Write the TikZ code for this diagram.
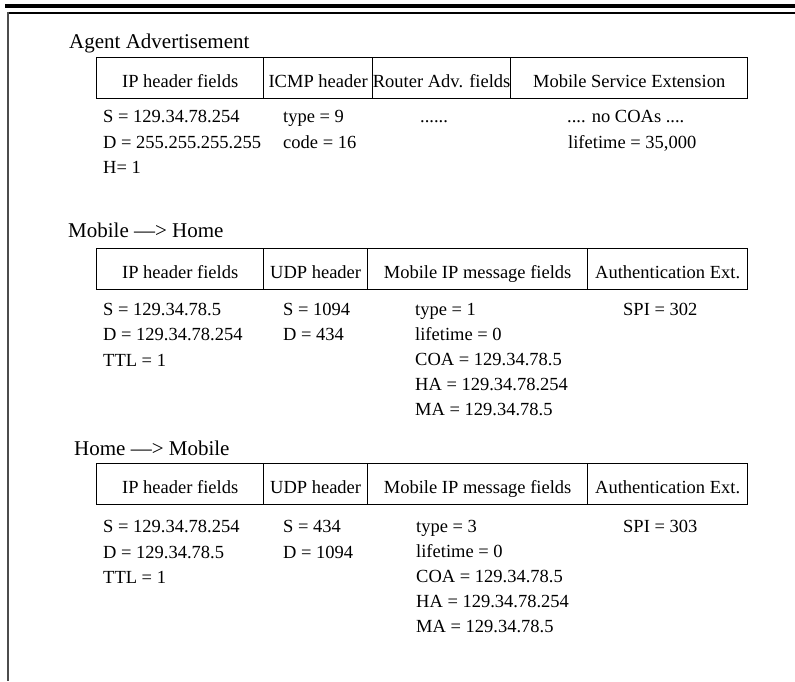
\documentclass[tikz,border=0pt]{standalone}
\usepackage{fontspec}
\setmainfont{Liberation Serif}
\newcommand{\fldfont}{\fontsize{18.5}{22}\selectfont}
\newcommand{\ttlfont}{\fontsize{21}{25}\selectfont}

\begin{document}
\begin{tikzpicture}[x=1pt, y=-1pt]
\tikzset{
  cell/.style={
    draw, line width=1.3pt, rectangle, anchor=north west,
    minimum height=41pt, inner xsep=0pt, inner ysep=1pt,
    text height=18pt, text depth=0pt, font=\fldfont
  },
  val/.style={anchor=base west, inner sep=0pt, font=\fldfont},
  ttl/.style={anchor=base west, inner sep=0pt, font=\ttlfont}
}
\useasboundingbox (0,0) rectangle (795,681);

% page frame
\draw[line width=4pt] (5,6) -- (795,6);
\draw[line width=1.5pt] (7,13) -- (795,13);
\draw[line width=2pt, black!70] (8,12) -- (8,681);

% Agent Advertisement
\node[ttl] (advtitle) at (69,48) {Agent Advertisement};
\node[cell, minimum width=167pt] (advip)   at (96,57)  {IP header fields};
\node[cell, minimum width=109pt] (advicmp) at (263,57) {ICMP header};
\node[cell, minimum width=138pt] (advrtr)  at (372,57) {Router Adv. fields};
\node[cell, minimum width=237pt] (advmse)  at (510,57) {Mobile Service Extension};

\node[val] (advS)    at (103,122) {S = 129.34.78.254};
\node[val] (advD)    at (103,148) {D = 255.255.255.255};
\node[val] (advH)    at (103,173) {H= 1};
\node[val] (advtype) at (283,122) {type = 9};
\node[val] (advcode) at (283,148) {code = 16};
\node[val] (advdots) at (420,122) {......};
\node[val] (advcoa)  at (567,122) {.... no COAs ....};
\node[val] (advlife) at (568,148) {lifetime = 35,000};

% Mobile ---> Home
\node[ttl] (mhtitle) at (68,237) {Mobile —> Home};
\node[cell, minimum width=167pt] (mhip)   at (96,248)  {IP header fields};
\node[cell, minimum width=104pt] (mhudp)  at (263,248) {UDP header};
\node[cell, minimum width=220pt] (mhmsg)  at (367,248) {Mobile IP message fields};
\node[cell, minimum width=160pt] (mhauth) at (587,248) {Authentication Ext.};

\node[val] (mhS)    at (103,315) {S = 129.34.78.5};
\node[val] (mhD)    at (103,340) {D = 129.34.78.254};
\node[val] (mhTTL)  at (103,366) {TTL = 1};
\node[val] (mhuS)   at (283,315) {S = 1094};
\node[val] (mhuD)   at (283,340) {D = 434};
\node[val] (mhtype) at (415,315) {type = 1};
\node[val] (mhlife) at (415,340) {lifetime = 0};
\node[val] (mhcoa)  at (415,365) {COA = 129.34.78.5};
\node[val] (mhha)   at (415,390) {HA = 129.34.78.254};
\node[val] (mhma)   at (415,415) {MA = 129.34.78.5};
\node[val] (mhspi)  at (623,315) {SPI = 302};

% Home ---> Mobile
\node[ttl] (hmtitle) at (74,455) {Home —> Mobile};
\node[cell, minimum width=167pt] (hmip)   at (96,463)  {IP header fields};
\node[cell, minimum width=104pt] (hmudp)  at (263,463) {UDP header};
\node[cell, minimum width=220pt] (hmmsg)  at (367,463) {Mobile IP message fields};
\node[cell, minimum width=160pt] (hmauth) at (587,463) {Authentication Ext.};

\node[val] (hmS)    at (103,532) {S = 129.34.78.254};
\node[val] (hmD)    at (103,558) {D = 129.34.78.5};
\node[val] (hmTTL)  at (103,583) {TTL = 1};
\node[val] (hmuS)   at (283,532) {S = 434};
\node[val] (hmuD)   at (283,558) {D = 1094};
\node[val] (hmtype) at (416,532) {type = 3};
\node[val] (hmlife) at (416,557) {lifetime = 0};
\node[val] (hmcoa)  at (416,582) {COA = 129.34.78.5};
\node[val] (hmha)   at (416,607) {HA = 129.34.78.254};
\node[val] (hmma)   at (416,632) {MA = 129.34.78.5};
\node[val] (hmspi)  at (623,532) {SPI = 303};
\end{tikzpicture}
\end{document}
